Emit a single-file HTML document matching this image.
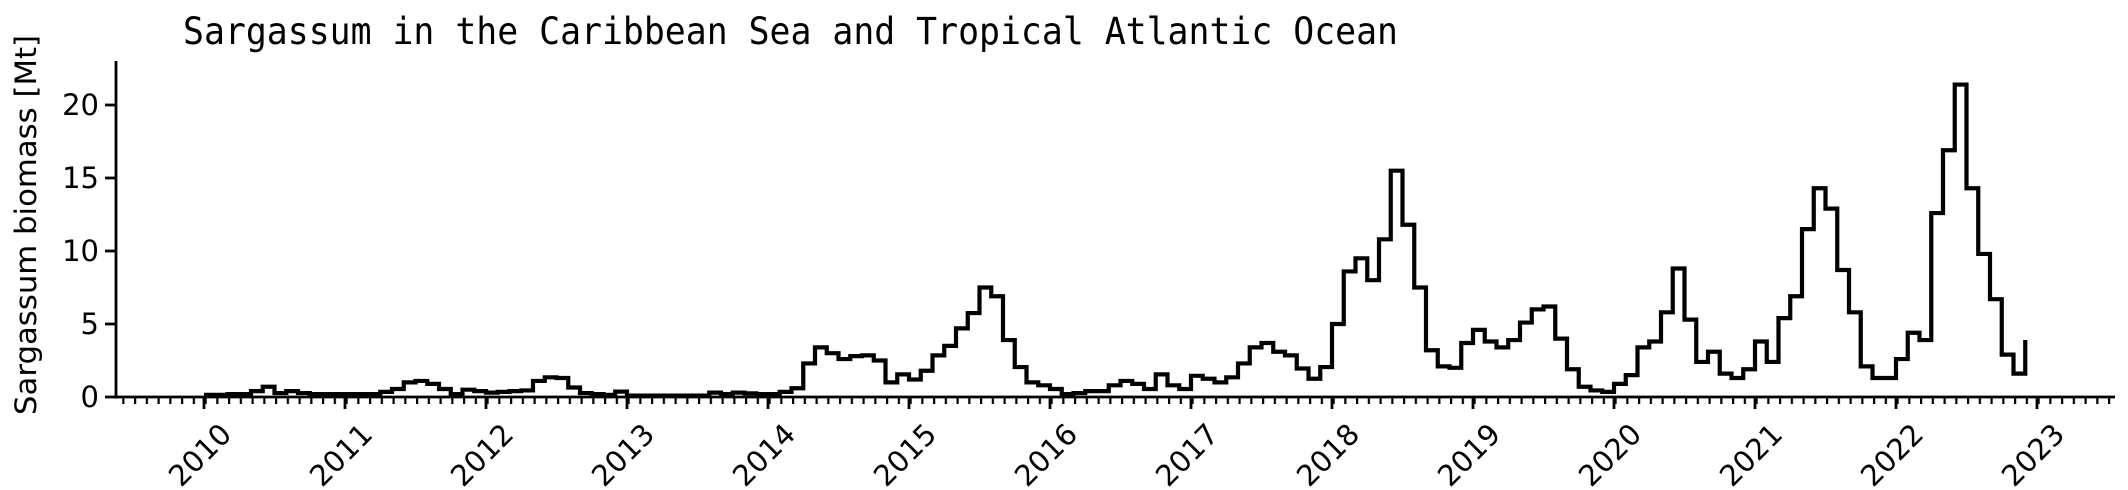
<!DOCTYPE html>
<html><head><meta charset="utf-8"><style>
html,body{margin:0;padding:0;background:#fff;}
svg{display:block;}
</style></head><body>
<svg width="2128" height="490" viewBox="0 0 2128 490" xmlns="http://www.w3.org/2000/svg">
<defs>
<pattern id="minor" patternUnits="userSpaceOnUse" x="122.25" y="397" width="11.75" height="20">
<rect x="0" y="0" width="2.2" height="7" fill="#000"/>
</pattern>
</defs>
<rect width="2128" height="490" fill="#fff"/>
<text x="183" y="44" font-family="'DejaVu Sans Mono','Liberation Mono',monospace" font-size="37" textLength="1215" lengthAdjust="spacingAndGlyphs">Sargassum in the Caribbean Sea and Tropical Atlantic Ocean</text>
<line x1="116" y1="61" x2="116" y2="398.5" stroke="#000" stroke-width="2.8"/>
<line x1="115" y1="397" x2="2115" y2="397" stroke="#000" stroke-width="2.8"/>
<rect x="122" y="397" width="1992" height="7" fill="url(#minor)"/>
<g stroke="#000" stroke-width="2.8">
<line x1="204" y1="397" x2="204" y2="409"/><line x1="345" y1="397" x2="345" y2="409"/>
<line x1="486" y1="397" x2="486" y2="409"/><line x1="627" y1="397" x2="627" y2="409"/>
<line x1="768" y1="397" x2="768" y2="409"/><line x1="909" y1="397" x2="909" y2="409"/>
<line x1="1050" y1="397" x2="1050" y2="409"/><line x1="1191" y1="397" x2="1191" y2="409"/>
<line x1="1332" y1="397" x2="1332" y2="409"/><line x1="1473" y1="397" x2="1473" y2="409"/>
<line x1="1614" y1="397" x2="1614" y2="409"/><line x1="1755" y1="397" x2="1755" y2="409"/>
<line x1="1896" y1="397" x2="1896" y2="409"/><line x1="2037" y1="397" x2="2037" y2="409"/>
<line x1="105" y1="397" x2="116" y2="397"/><line x1="105" y1="324" x2="116" y2="324"/>
<line x1="105" y1="251" x2="116" y2="251"/><line x1="105" y1="178" x2="116" y2="178"/>
<line x1="105" y1="105" x2="116" y2="105"/>
</g>
<g font-family="'DejaVu Sans','Liberation Sans',sans-serif" font-size="29" text-anchor="end">
<text x="99" y="407">0</text><text x="99" y="334">5</text><text x="99" y="261">10</text>
<text x="99" y="188">15</text><text x="99" y="115">20</text>
</g>
<text transform="translate(36,225) rotate(-90)" text-anchor="middle" font-family="'DejaVu Sans','Liberation Sans',sans-serif" font-size="29" textLength="380" lengthAdjust="spacingAndGlyphs">Sargassum biomass [Mt]</text>
<g font-family="'DejaVu Sans','Liberation Sans',sans-serif" font-size="29" text-anchor="middle" dominant-baseline="central">
<text transform="translate(200,455) rotate(-45)">2010</text>
<text transform="translate(341,455) rotate(-45)">2011</text>
<text transform="translate(482,455) rotate(-45)">2012</text>
<text transform="translate(623,455) rotate(-45)">2013</text>
<text transform="translate(764,455) rotate(-45)">2014</text>
<text transform="translate(905,455) rotate(-45)">2015</text>
<text transform="translate(1046,455) rotate(-45)">2016</text>
<text transform="translate(1187,455) rotate(-45)">2017</text>
<text transform="translate(1328,455) rotate(-45)">2018</text>
<text transform="translate(1469,455) rotate(-45)">2019</text>
<text transform="translate(1610,455) rotate(-45)">2020</text>
<text transform="translate(1751,455) rotate(-45)">2021</text>
<text transform="translate(1892,455) rotate(-45)">2022</text>
<text transform="translate(2033,455) rotate(-45)">2023</text>
</g>
<g transform="translate(204,397) scale(11.75,-14.6)">
<path fill="none" stroke="#000" stroke-width="4.2" stroke-linejoin="miter" vector-effect="non-scaling-stroke" d="M0 .15 H1 V.15 H2 V.2 H3 V.2 H4 V.4 H5 V.7 H6 V.27 H7 V.4 H8 V.27 H9 V.2 H10 V.2 H11 V.2
H12 V.2 H13 V.2 H14 V.2 H15 V.35 H16 V.55 H17 V1 H18 V1.1 H19 V.9 H20 V.55 H21 V.2 H22 V.5 H23 V.4
H24 V.3 H25 V.35 H26 V.4 H27 V.45 H28 V1.1 H29 V1.35 H30 V1.3 H31 V.65 H32 V.27 H33 V.2 H34 V.15 H35 V.37
H36 V.1 H37 V.1 H38 V.1 H39 V.1 H40 V.1 H41 V.1 H42 V.1 H43 V.3 H44 V.2 H45 V.3 H46 V.25 H47 V.2
H48 V.2 H49 V.35 H50 V.6 H51 V2.3 H52 V3.4 H53 V3 H54 V2.6 H55 V2.8 H56 V2.85 H57 V2.5 H58 V1 H59 V1.55
H60 V1.2 H61 V1.8 H62 V2.85 H63 V3.5 H64 V4.7 H65 V5.75 H66 V7.5 H67 V6.9 H68 V3.9 H69 V2.05 H70 V1 H71 V.8
H72 V.55 H73 V.2 H74 V.27 H75 V.4 H76 V.4 H77 V.8 H78 V1.1 H79 V.9 H80 V.55 H81 V1.55 H82 V.8 H83 V.55
H84 V1.45 H85 V1.25 H86 V1 H87 V1.35 H88 V2.3 H89 V3.4 H90 V3.7 H91 V3.1 H92 V2.85 H93 V1.95 H94 V1.25 H95 V2.05
H96 V5 H97 V8.6 H98 V9.5 H99 V8 H100 V10.8 H101 V15.5 H102 V11.8 H103 V7.5 H104 V3.2 H105 V2.1 H106 V2 H107 V3.7
H108 V4.6 H109 V3.8 H110 V3.4 H111 V3.9 H112 V5.1 H113 V6 H114 V6.2 H115 V4 H116 V1.9 H117 V.7 H118 V.45 H119 V.35
H120 V.9 H121 V1.5 H122 V3.4 H123 V3.8 H124 V5.8 H125 V8.8 H126 V5.3 H127 V2.4 H128 V3.1 H129 V1.6 H130 V1.3 H131 V1.9
H132 V3.8 H133 V2.4 H134 V5.4 H135 V6.9 H136 V11.5 H137 V14.3 H138 V12.9 H139 V8.7 H140 V5.8 H141 V2.1 H142 V1.3 H143 V1.3
H144 V2.6 H145 V4.4 H146 V3.9 H147 V12.6 H148 V16.9 H149 V21.4 H150 V14.3 H151 V9.8 H152 V6.7 H153 V2.9 H154 V1.6 H155 V3.9"/>
</g>
</svg>
</body></html>
